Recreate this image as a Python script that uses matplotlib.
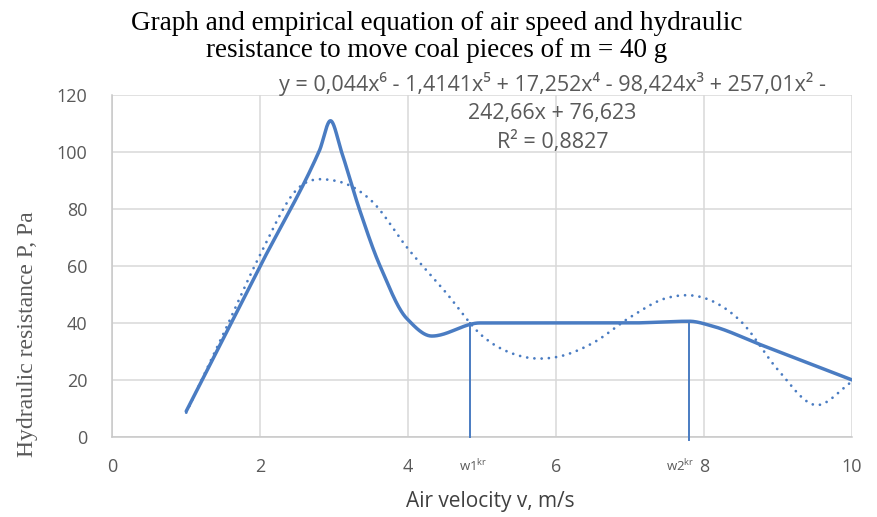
import numpy as np
import matplotlib.pyplot as plt

velocity = [1, 2, 2.8, 2.95, 3.1, 3.34, 3.62, 3.98, 4.32, 4.97, 6, 7, 7.8, 8.1, 8.8, 10]
resistance = [9, 60, 100.5, 111, 100, 80, 60, 41.6, 35.4, 40, 40, 40, 40.6, 39, 32, 20]

# poly6 trendline
trend_x = [1, 1.5, 2, 2.5, 3, 3.5, 4, 4.5, 5, 5.5, 6, 6.5, 7, 7.5, 8, 8.5, 9, 9.5, 10]
trend_y = [8.5, 36, 64, 87, 90, 83, 66, 51, 35.5, 28.5, 28, 33, 42, 48.8, 48.8, 40.5, 23.5, 11.2, 19.4]

# critical velocities
crit_v = [4.84, 7.8]
crit_p = [40, 40.6]
crit_labels = ['w1', 'w2']

equation = ('y = 0,044x\u2076 - 1,4141x\u2075 + 17,252x\u2074 - 98,424x\u00b3 + 257,01x\u00b2 -\n'
            '242,66x + 76,623\nR\u00b2 = 0,8827')

BLUE = '#4a7cc2'
GREY = '#595959'


def smooth(xs, ys, flat=False, n=40):
    # cubic Hermite through the points (Excel-like smoothed line)
    x = np.asarray(xs, float)
    y = np.asarray(ys, float)
    h = np.diff(x)
    s = np.diff(y) / h
    m = np.empty_like(x)
    m[0], m[-1] = s[0], s[-1]
    for i in range(1, len(x) - 1):
        if flat:
            # no overshoot: flat at turning points, harmonic mean otherwise
            if s[i - 1] * s[i] <= 0:
                m[i] = 0
            else:
                m[i] = 2 / (1 / s[i - 1] + 1 / s[i])
        else:
            m[i] = (h[i - 1] * s[i] + h[i] * s[i - 1]) / (h[i - 1] + h[i])
    px, py = [], []
    t = np.linspace(0, 1, n)
    for i in range(len(x) - 1):
        h00 = 2 * t**3 - 3 * t**2 + 1
        h10 = t**3 - 2 * t**2 + t
        h01 = -2 * t**3 + 3 * t**2
        h11 = t**3 - t**2
        px.append(x[i] + t * h[i])
        py.append(h00 * y[i] + h10 * h[i] * m[i] + h01 * y[i + 1] + h11 * h[i] * m[i + 1])
    return np.concatenate(px), np.concatenate(py)


fig = plt.figure(figsize=(8.77, 5.17), dpi=100)
ax = fig.add_axes([0.128, 0.155, 0.8435, 0.661])

sx, sy = smooth(velocity, resistance, flat=True)
ax.plot(sx, sy, color=BLUE, lw=2.5, solid_capstyle='round', solid_joinstyle='round', zorder=3)
tx, ty = smooth(trend_x, trend_y)
ax.plot(tx, ty, color=BLUE, lw=2.0, linestyle=(0, (0.01, 2.6)), dash_capstyle='round', zorder=3)

for v, p in zip(crit_v, crit_p):
    ax.plot([v, v], [-1 if v > 7 else 0, p], color=BLUE, lw=1.4, zorder=3, clip_on=False)

ax.set_xlim(0, 10)
ax.set_ylim(0, 120)
ax.set_xticks(np.arange(0, 11, 2))
ax.set_yticks(np.arange(0, 121, 20))
ax.grid(True, color='#d9d9d9', lw=1.1)
ax.set_axisbelow(True)
for s in ['top', 'right']:
    ax.spines[s].set_visible(False)
for s in ['left', 'bottom']:
    ax.spines[s].set_color('#c8c8c8')
    ax.spines[s].set_linewidth(1.1)
ax.tick_params(axis='x', length=0, pad=15, labelsize=13, labelcolor=GREY)
ax.tick_params(axis='y', length=0, pad=18, labelsize=13, labelcolor=GREY)
for lab in ax.get_xticklabels() + ax.get_yticklabels():
    lab.set_fontfamily('Open Sans')

for v, name in zip(crit_v, crit_labels):
    ax.annotate(name + '$^{\\mathregular{kr}}$', xy=(v, 0), xytext=(2 if v < 7 else -6.5, -15),
                textcoords='offset points', ha='center', va='top',
                fontsize=9.5, color=GREY, family='Open Sans', annotation_clip=False)

ax.text(0.595, 1.068, equation, transform=ax.transAxes, ha='center', va='top',
        fontsize=15.5, color=GREY, family='Open Sans', linespacing=1.42, zorder=4)

fig.text(0.498, 0.978, 'Graph and empirical equation of air speed and hydraulic\n'
         'resistance to move coal pieces of m = 40 g', ha='center', va='top',
         fontsize=19.5, family='Liberation Serif', linespacing=1.1)
ax.set_xlabel('Air velocity v, m/s', fontsize=15, family='Open Sans', color='#404040')
ax.xaxis.set_label_coords(0.511, -0.158)
ax.set_ylabel('Hydraulic resistance P, Pa', fontsize=17, family='Liberation Serif', color=GREY)
ax.yaxis.set_label_coords(-0.1, 0.30)

fig.savefig('out.png', dpi=100)
